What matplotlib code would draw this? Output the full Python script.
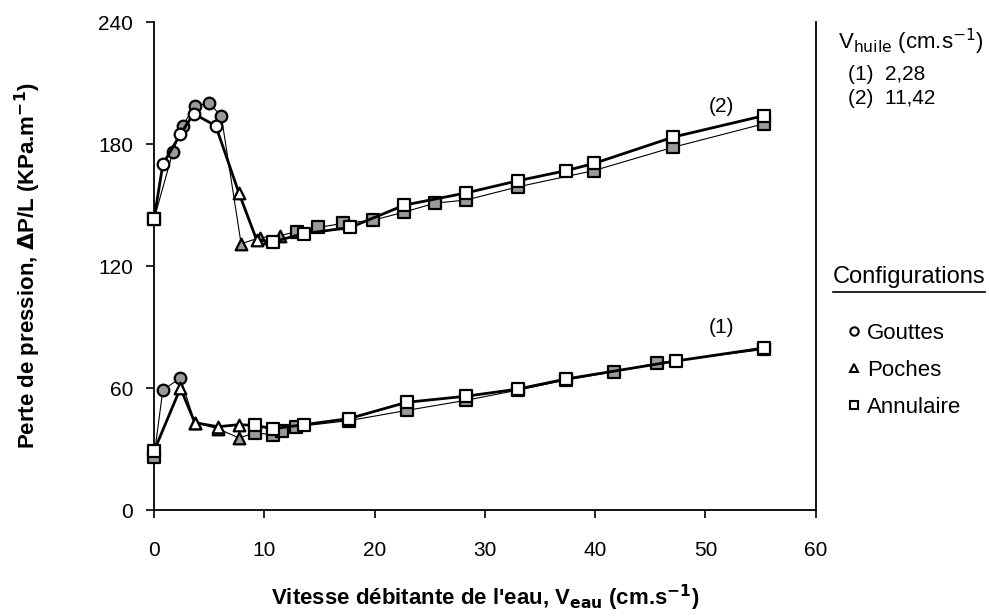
import matplotlib
matplotlib.use("Agg")
import matplotlib.pyplot as plt
from matplotlib.lines import Line2D

# upper curve (2), V_huile = 11,42 -- thick line, open markers
up_thick_x = [0, 0.8, 2.4, 3.6, 5.6, 7.7, 9.3, 10.8, 13.6, 17.8, 22.7, 28.3, 33.0, 37.4, 39.9, 47.1, 55.3]
up_thick_y = [143, 170, 185, 195, 189, 156, 133, 132, 136, 139, 150, 156, 162, 167, 170.5, 183.5, 194]
up_thick_m = ['s', 'o', 'o', 'o', 'o', '^', '^', 's', 's', 's', 's', 's', 's', 's', 's', 's', 's']

# upper curve (2) -- thin line, grey markers
up_thin_x = [0, 1.7, 2.6, 3.7, 5.0, 6.1, 7.9, 9.6, 11.4, 13.0, 14.9, 17.1, 19.9, 22.7, 25.5, 28.3, 33.0, 39.9, 47.1, 55.3]
up_thin_y = [143, 176, 189, 199, 200, 194, 131, 134, 135, 137, 139, 141, 142.6, 146.6, 151, 152.5, 159, 167, 178.5, 190]
up_thin_m = ['s', 'o', 'o', 'o', 'o', 'o', '^', '^', '^', 's', 's', 's', 's', 's', 's', 's', 's', 's', 's', 's']

# lower curve (1), V_huile = 2,28 -- thick line, open markers
lo_thick_x = [0, 2.4, 3.7, 5.8, 7.7, 9.2, 10.8, 13.6, 17.7, 22.9, 28.3, 33.0, 37.4, 47.3, 55.3]
lo_thick_y = [29, 60, 43, 41, 42, 41.6, 40, 42, 45, 53, 56, 59.5, 64.5, 73.3, 79.7]
lo_thick_m = ['s', '^', '^', '^', '^', 's', 's', 's', 's', 's', 's', 's', 's', 's', 's']

# lower curve (1) -- thin line, grey markers
lo_thin_x = [0, 0.8, 2.4, 3.7, 5.8, 7.7, 9.2, 10.8, 11.6, 12.9, 17.7, 22.9, 28.3, 33.0, 37.4, 41.7, 45.6, 55.3]
lo_thin_y = [26, 59, 65, 43, 40, 35.5, 38, 37, 39, 41, 44, 49, 54, 59, 64, 68, 72.3, 79]
lo_thin_m = ['s', 'o', 'o', '^', '^', '^', 's', 's', 's', 's', 's', 's', 's', 's', 's', 's', 's', 's']

xticks = [0, 10, 20, 30, 40, 50, 60]
yticks = [0, 60, 120, 180, 240]

plt.rcParams['font.family'] = ['Liberation Sans', 'DejaVu Sans']

fig = plt.figure(figsize=(9.89, 6.16), dpi=100)
ax = fig.add_axes([0.1557, 0.172, 0.669, 0.792])


def draw(xs, ys, ms, lw, face, z):
    ax.plot(xs, ys, color='black', lw=lw, zorder=z, clip_on=False)
    for m in ['o', '^', 's']:
        px = [x for x, mm in zip(xs, ms) if mm == m]
        py = [y for y, mm in zip(ys, ms) if mm == m]
        if px:
            ax.scatter(px, py, marker=m, s=70, facecolor=face, edgecolor='black',
                       linewidth=1.6, zorder=z + 1, clip_on=False)


draw(up_thin_x, up_thin_y, up_thin_m, 0.8, '#9a9a9a', 2)
draw(lo_thin_x, lo_thin_y, lo_thin_m, 0.8, '#9a9a9a', 2)
draw(up_thick_x, up_thick_y, up_thick_m, 2.0, 'white', 4)
draw(lo_thick_x, lo_thick_y, lo_thick_m, 2.0, 'white', 4)

ax.text(50.3, 196, '(2)', fontsize=15)
ax.text(50.3, 87, '(1)', fontsize=15)

ax.set_xlim(0, 60)
ax.set_ylim(0, 240)
ax.set_xticks(xticks)
ax.set_yticks(yticks)
ax.tick_params(direction='out', length=6, width=1.2, pad=9, labelsize=15)
ax.tick_params(axis='x', pad=16)
ax.spines['top'].set_visible(False)
for s in ['left', 'bottom', 'right']:
    ax.spines[s].set_linewidth(1.3)

ax.set_xlabel("Vitesse débitante de l'eau, V$_{\\mathbf{eau}}$ (cm.s$^{\\mathbf{-1}}$)", fontsize=16,
              fontweight='bold', labelpad=17)
ax.set_ylabel("Perte de pression, $\\mathbf{\\Delta}$P/L (KPa.m$^{\\mathbf{-1}}$)", fontsize=16,
              fontweight='bold', labelpad=40)

# right side annotations
fig.text(838 / 989, 1 - 42 / 616, "V$_{\\mathrm{huile}}$ (cm.s$^{-1}$)", fontsize=16, va='center')
fig.text(848 / 989, 1 - 74 / 616, "(1)  2,28", fontsize=15, va='center')
fig.text(848 / 989, 1 - 98 / 616, "(2)  11,42", fontsize=15, va='center')
fig.text(833 / 989, 1 - 277 / 616, "Configurations", fontsize=17, va='center')
fig.add_artist(Line2D([833 / 989, 985 / 989], [1 - 292 / 616, 1 - 292 / 616],
                      color='black', lw=1.2))

handles = [Line2D([], [], ls='none', marker='o', mfc='white', mec='black', ms=6, mew=1.5),
           Line2D([], [], ls='none', marker='^', mfc='white', mec='black', ms=6, mew=1.5),
           Line2D([], [], ls='none', marker='s', mfc='white', mec='black', ms=6, mew=1.5)]
fig.legend(handles, ['Gouttes', 'Poches', 'Annulaire'], loc='upper left',
           bbox_to_anchor=(838 / 989, 1 - 314 / 616), frameon=False, fontsize=16,
           handlelength=0.6, handletextpad=0.3, labelspacing=0.72, borderaxespad=0)

fig.savefig('out.png', dpi=100)
